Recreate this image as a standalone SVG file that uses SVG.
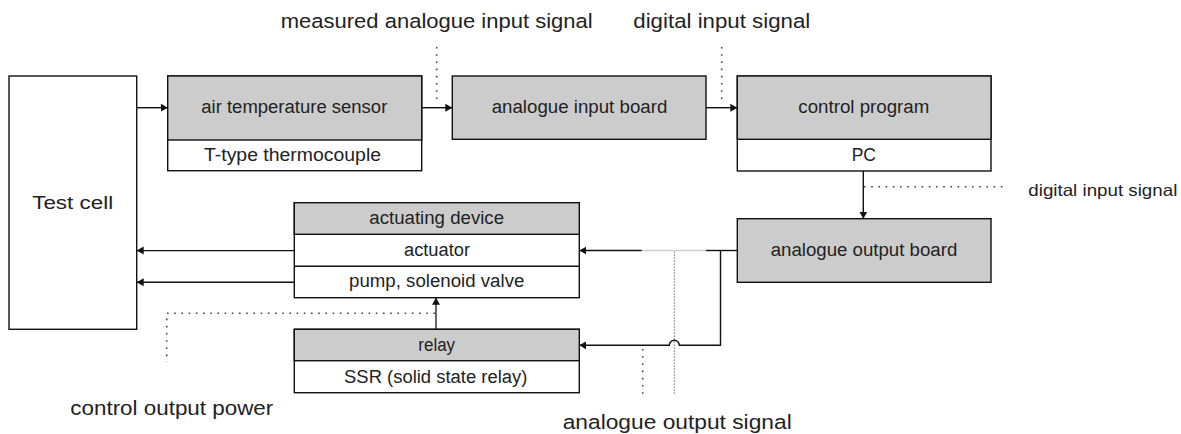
<svg xmlns="http://www.w3.org/2000/svg" width="1181" height="434" viewBox="0 0 1181 434">
  <style>
    .box { fill: #ffffff; stroke: #111111; stroke-width: 1.4; }
    .head { fill: #cccccc; stroke: #111111; stroke-width: 1.4; }
    .txt { font-family: "Liberation Sans", Arial, sans-serif; fill: #222222; text-anchor: middle; font-size: 18px; }
    .lbl { font-family: "Liberation Sans", Arial, sans-serif; fill: #222222; font-size: 20.5px; }
    .lbl-s { font-family: "Liberation Sans", Arial, sans-serif; fill: #222222; font-size: 16.5px; }
    .wire { fill: none; stroke: #111111; stroke-width: 1.4; }
    .wire-grey { fill: none; stroke: #cfcfcf; stroke-width: 1.4; }
    .wire-up { fill: none; stroke: #555555; stroke-width: 1.8; }
    .dots { fill: none; stroke: #444444; stroke-width: 1.6; stroke-dasharray: 1.6 5.6; }
    .dots-fine { fill: none; stroke: #444444; stroke-width: 1; stroke-dasharray: 1.2 1.8; }
  </style>
  <defs>
    <marker id="tip" markerUnits="userSpaceOnUse" markerWidth="8" markerHeight="9" refX="7" refY="4.5" orient="auto">
      <path d="M0,0.5 L7,4.5 L0,8.5 z" fill="#111111"/>
    </marker>
  </defs>

  <rect width="1181" height="434" fill="#ffffff"/>

  <!-- signal annotations -->
  <g id="labels">
    <text class="lbl" x="280.7" y="28" textLength="312" lengthAdjust="spacingAndGlyphs">measured analogue input signal</text>
    <text class="lbl" x="633.3" y="28" textLength="177" lengthAdjust="spacingAndGlyphs">digital input signal</text>
    <text class="lbl-s" x="1028.3" y="196" textLength="149" lengthAdjust="spacingAndGlyphs">digital input signal</text>
    <text class="lbl" x="70.3" y="415" textLength="203" lengthAdjust="spacingAndGlyphs">control output power</text>
    <text class="lbl" x="562.7" y="429" textLength="229" lengthAdjust="spacingAndGlyphs">analogue output signal</text>
  </g>

  <!-- dotted signal markers -->
  <g id="markers">
    <path class="dots" d="M436.7,47 V102"/>
    <path class="dots" d="M721.7,47 V102"/>
    <path class="dots" d="M864,186.7 H1004"/>
    <path class="dots" d="M435,313.3 H166.7 V362"/>
    <path class="dots" d="M642.7,349 V394"/>
    <path class="dots-fine" d="M674.3,251.5 V394"/>
  </g>

  <!-- connectors -->
  <g id="connectors">
    <path class="wire" d="M136.7,107.7 H167.7" marker-end="url(#tip)"/>
    <path class="wire" d="M421.7,107.7 H452.3" marker-end="url(#tip)"/>
    <path class="wire" d="M706,107.7 H737.3" marker-end="url(#tip)"/>
    <path class="wire" d="M863.3,171 V218.7" marker-end="url(#tip)"/>
    <!-- analogue output board to actuator -->
    <path class="wire" d="M737.3,250.5 H706"/>
    <path class="wire-grey" d="M706,250.5 H641.7"/>
    <path class="wire" d="M641.7,250.5 H579.3" marker-end="url(#tip)"/>
    <!-- analogue output board to relay, hopping over the dotted marker -->
    <path class="wire" d="M720.5,250.5 V345.3 H679.3 A5,5 0 0 0 669.3,345.3 H579.3" marker-end="url(#tip)"/>
    <!-- actuating device to test cell -->
    <path class="wire" d="M294.3,250.6 H136.7" marker-end="url(#tip)"/>
    <path class="wire" d="M294.3,282.3 H136.7" marker-end="url(#tip)"/>
    <!-- relay to actuating device -->
    <path class="wire-up" d="M436,329.3 V297.7" marker-end="url(#tip)"/>
  </g>

  <g id="test-cell">
    <rect class="box" x="9" y="76" width="127.7" height="253.3"/>
    <text class="txt" x="72.7" y="209" font-size="20.5" textLength="81" lengthAdjust="spacingAndGlyphs">Test cell</text>
  </g>

  <g id="air-temperature-sensor">
    <rect class="box" x="167.7" y="76" width="254" height="94.7"/>
    <rect class="head" x="167.7" y="76" width="254" height="64"/>
    <text class="txt" x="294.3" y="113.3" textLength="186" lengthAdjust="spacingAndGlyphs">air temperature sensor</text>
    <text class="txt" x="292.5" y="161" textLength="177" lengthAdjust="spacingAndGlyphs">T-type thermocouple</text>
  </g>

  <g id="analogue-input-board">
    <rect class="head" x="452.3" y="76" width="253.7" height="63.3"/>
    <text class="txt" x="579.5" y="113.3" textLength="175.6" lengthAdjust="spacingAndGlyphs">analogue input board</text>
  </g>

  <g id="control-program">
    <rect class="box" x="737.3" y="76" width="253.7" height="95"/>
    <rect class="head" x="737.3" y="76" width="253.7" height="63.3"/>
    <text class="txt" x="863.8" y="112.5" textLength="131" lengthAdjust="spacingAndGlyphs">control program</text>
    <text class="txt" x="863.8" y="161" textLength="24.3" lengthAdjust="spacingAndGlyphs">PC</text>
  </g>

  <g id="analogue-output-board">
    <rect class="head" x="737.3" y="218.7" width="253.7" height="63.6"/>
    <text class="txt" x="864" y="256" textLength="186.6" lengthAdjust="spacingAndGlyphs">analogue output board</text>
  </g>

  <g id="actuating-device">
    <rect class="box" x="294.3" y="202.7" width="285" height="95"/>
    <rect class="head" x="294.3" y="202.7" width="285" height="31.6"/>
    <line class="wire" x1="294.3" y1="266.3" x2="579.3" y2="266.3"/>
    <text class="txt" x="436.7" y="224" textLength="134.7" lengthAdjust="spacingAndGlyphs">actuating device</text>
    <text class="txt" x="437" y="255.7" textLength="66" lengthAdjust="spacingAndGlyphs">actuator</text>
    <text class="txt" x="436.7" y="287" textLength="175.3" lengthAdjust="spacingAndGlyphs">pump, solenoid valve</text>
  </g>

  <g id="relay">
    <rect class="box" x="294.3" y="329.3" width="285" height="63.4"/>
    <rect class="head" x="294.3" y="329.3" width="285" height="31.4"/>
    <text class="txt" x="436.7" y="351" textLength="36.7" lengthAdjust="spacingAndGlyphs">relay</text>
    <text class="txt" x="435.7" y="382.7" textLength="183.3" lengthAdjust="spacingAndGlyphs">SSR (solid state relay)</text>
  </g>
</svg>
